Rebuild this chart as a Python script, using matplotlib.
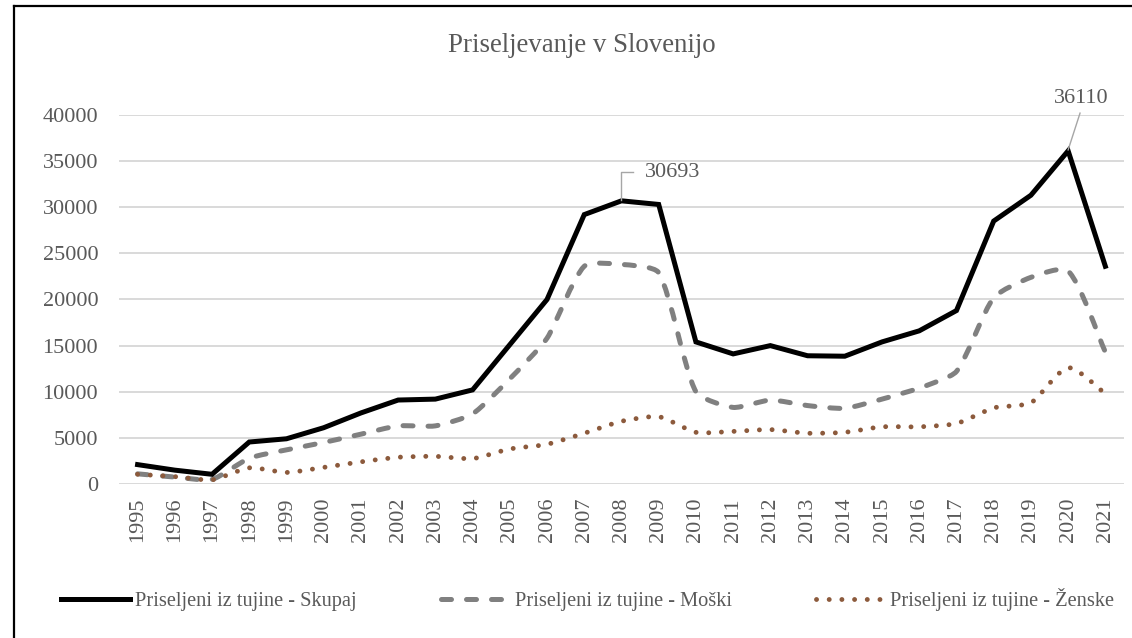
import numpy as np
import matplotlib.pyplot as plt
from matplotlib.path import Path
from matplotlib.patches import PathPatch
from matplotlib.lines import Line2D

# -----------------------------
# Data
years = [str(y) for y in range(1995, 2022)]
skupaj = [2100, 1500, 1050, 4550, 4900, 6100, 7700, 9100, 9200, 10200,
          15100, 20000, 29200, 30693, 30300, 15400, 14100, 15000, 13900, 13850,
          15400, 16600, 18800, 28500, 31300, 36110, 23600]
moski = [1100, 750, 500, 2800, 3700, 4500, 5400, 6300, 6300, 7600,
         11400, 15800, 23600, 23800, 22900, 10000, 8300, 9100, 8500, 8200,
         9200, 10400, 12200, 20200, 22400, 23100, 14300]
zenske = [1050, 800, 450, 1750, 1250, 1800, 2400, 2900, 3000, 2750,
          3800, 4300, 5500, 6800, 7300, 5600, 5700, 5900, 5500, 5600,
          6200, 6200, 6550, 8250, 8800, 12600, 9800]
labels = ["Priseljeni iz tujine - Skupaj", "Priseljeni iz tujine - Moški",
          "Priseljeni iz tujine - Ženske"]

plt.rcParams['font.family'] = ['Liberation Serif', 'DejaVu Serif']
txt = '#595959'

# screen aspect: one category step vs one y unit (used only for smoothing)
YSCALE = 9.225 / 1000 / 37.2


def smooth_path(xs, ys, k=0.2):
    # bezier through the data points, tangent scaled by segment length
    # (roughly what Excel's "smoothed line" does)
    pts = np.column_stack([xs, np.asarray(ys) * YSCALE]).astype(float)
    n = len(pts)
    tang = []
    for i in range(n):
        d = pts[min(i + 1, n - 1)] - pts[max(i - 1, 0)]
        tang.append(d / np.linalg.norm(d))
    verts = [pts[0]]
    codes = [Path.MOVETO]
    for i in range(n - 1):
        seg = np.linalg.norm(pts[i + 1] - pts[i])
        c1 = pts[i] + tang[i] * seg * k
        c2 = pts[i + 1] - tang[i + 1] * seg * k
        verts += [c1, c2, pts[i + 1]]
        codes += [Path.CURVE4] * 3
    verts = np.array(verts)
    verts[:, 1] /= YSCALE
    return Path(verts, codes)


fig = plt.figure(figsize=(11.32, 6.38), dpi=100)
ax = fig.add_axes([0.1051, 0.2414, 0.8878, 0.5784])

x = np.arange(len(years))
ax.plot(x, skupaj, color='black', lw=3.6, solid_joinstyle='miter', zorder=4)

dash_m = (0, (2, 3))
dot_z = (0, (0.01, 2.6))
p_m = PathPatch(smooth_path(x, moski), fill=False, edgecolor='#808080', lw=3.6,
                linestyle=dash_m, capstyle='round', joinstyle='round', zorder=3)
ax.add_patch(p_m)
p_z = PathPatch(smooth_path(x, zenske), fill=False, edgecolor='#8c5a3c', lw=3.5,
                linestyle=dot_z, capstyle='round', joinstyle='round', zorder=3)
ax.add_patch(p_z)

ax.set_xlim(-0.5, len(years) - 0.5)
ax.set_ylim(0, 40000)
ax.set_yticks(range(0, 40001, 5000))
ax.set_xticks(x)
ax.set_xticklabels(years, rotation=90)
ax.tick_params(axis='both', length=0, labelsize=16, labelcolor=txt)
ax.tick_params(axis='y', pad=15)
ax.tick_params(axis='x', pad=10)
ax.grid(axis='y', color='#d9d9d9', lw=1.4)
ax.set_axisbelow(True)
for s in ax.spines.values():
    s.set_visible(False)

# data labels with leader lines
i08 = years.index('2008')
ax.plot([i08, i08, i08 + 0.3], [skupaj[i08] + 100, 33800, 33800], color='#a6a6a6', lw=1, zorder=5)
ax.text(i08 + 0.62, 33800, str(skupaj[i08]), fontsize=16, color=txt, va='center', ha='left')
i20 = years.index('2020')
ax.plot([i20, i20 + 0.32], [skupaj[i20] + 100, 40200], color='#a6a6a6', lw=1, zorder=5,
        clip_on=False)
ax.text(i20 + 0.34, 41800, str(skupaj[i20]), fontsize=16, color=txt, va='center', ha='center')

fig.text(0.514, 0.929, "Priseljevanje v Slovenijo", fontsize=19.4, color=txt,
         ha='center', va='center')

handles = [Line2D([], [], color='black', lw=3.6),
           Line2D([], [], color='#808080', lw=3.6, linestyle=dash_m, dash_capstyle='round'),
           Line2D([], [], color='#8c5a3c', lw=3.5, linestyle=dot_z, dash_capstyle='round')]
fig.legend(handles, labels, loc='center', bbox_to_anchor=(0.519, 0.06), ncol=3,
           frameon=False, fontsize=14.7, handlelength=3.4, handletextpad=0.25,
           columnspacing=4.1, labelcolor=txt)

# outer frame (left and top edge visible in the reference)
fig.add_artist(Line2D([0.0124, 0.0124], [0, 0.9906], color='black', lw=1.6,
                      transform=fig.transFigure))
fig.add_artist(Line2D([0.0124, 1.0], [0.9906, 0.9906], color='black', lw=1.6,
                      transform=fig.transFigure))

fig.savefig('out.png', dpi=100)
